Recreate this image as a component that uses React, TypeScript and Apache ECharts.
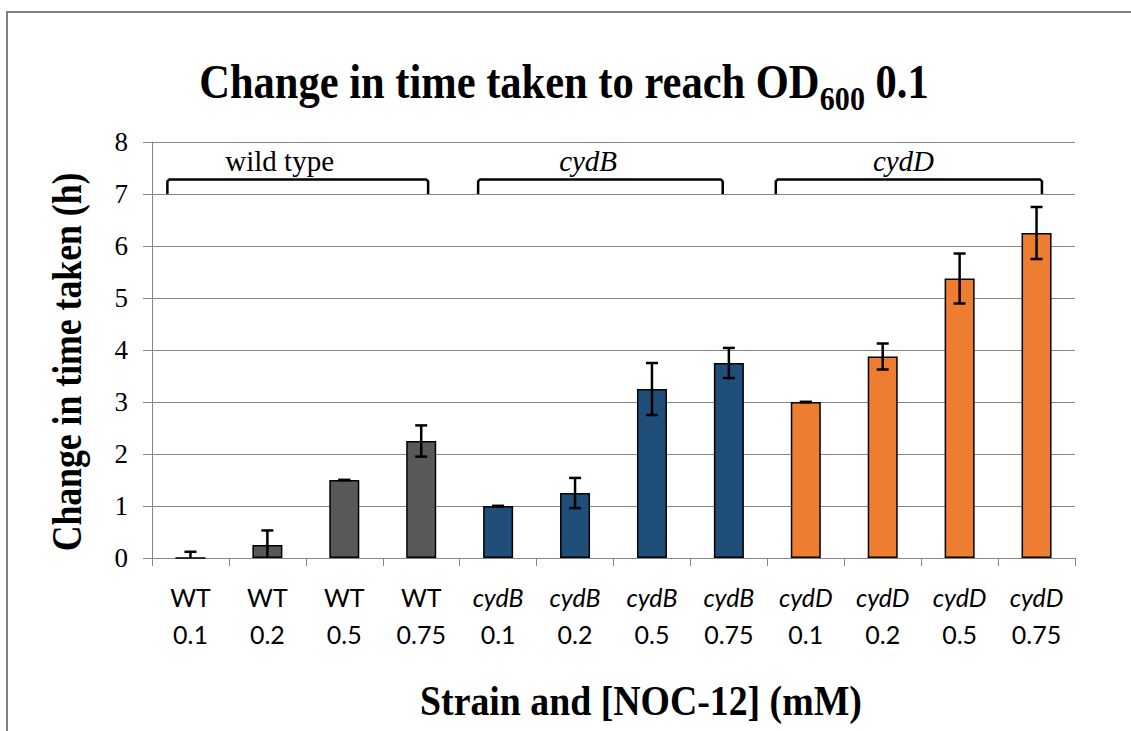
import React, { useEffect, useRef } from "react";
import * as echarts from "echarts";

// Strain and NOC-12 concentration (mM) for each bar
const strains = ["WT", "WT", "WT", "WT", "cydB", "cydB", "cydB", "cydB", "cydD", "cydD", "cydD", "cydD"];
const concentrations = ["0.1", "0.2", "0.5", "0.75", "0.1", "0.2", "0.5", "0.75", "0.1", "0.2", "0.5", "0.75"];

// Change in time taken to reach OD600 0.1 (h), with error
const means = [0, 0.25, 1.5, 2.25, 1.0, 1.25, 3.25, 3.75, 3.0, 3.875, 5.375, 6.25];
const errors = [0.12, 0.28, 0, 0.3, 0, 0.29, 0.5, 0.29, 0, 0.25, 0.48, 0.5];

const strainColors: Record<string, string> = {
  WT: "#595959",
  cydB: "#1F4E79",
  cydD: "#ED7D31",
};

// Group brackets above the bars: label, first/last bar index, end offsets and label centre (in bar slots)
const groupLabels = ["wild type", "cydB", "cydD"];
const groupItalic = [false, true, true];
const groupStart = [0, 4, 8];
const groupEnd = [3, 7, 11];
const groupStartOffset = [-0.3, -0.26, -0.39];
const groupEndOffset = [0.09, -0.08, 0.07];
const groupLabelPos = [1.16, 5.17, 9.27];

const yTicks = [0, 1, 2, 3, 4, 5, 6, 7, 8];

const TITLE_MAIN = "Change in time taken to reach OD";
const TITLE_SUB = "600";
const TITLE_TAIL = " 0.1";

const SERIF = "'Liberation Serif', 'Times New Roman', serif";
const SANS = "Lato, 'Open Sans', sans-serif";
const GRID_COLOR = "#868686";

function measure(text: string, font: string): number {
  const ctx = document.createElement("canvas").getContext("2d");
  if (!ctx) return text.length * 20;
  ctx.font = font;
  return ctx.measureText(text).width;
}

export default function App() {
  const ref = useRef<HTMLDivElement>(null);

  useEffect(() => {
    document.body.style.margin = "0";
    if (!ref.current) return;
    const chart = echarts.init(ref.current, undefined, { renderer: "svg" });

    const categories = strains.map((s, i) => `${s}|${concentrations[i]}`);

    // Title pieces laid out side by side so the subscript sits below the baseline
    const mainFont = `bold 48px ${SERIF}`;
    const subFont = `bold 34px ${SERIF}`;
    const w1 = measure(TITLE_MAIN, mainFont);
    const w2 = measure(TITLE_SUB, subFont);
    const w3 = measure(TITLE_TAIL, mainFont);
    const startX = -(w1 + w2 + w3) / 2;

    const option: echarts.EChartsOption = {
      animation: false,
      backgroundColor: "#ffffff",
      grid: { left: 152, right: 56, top: 142, bottom: 173 },
      xAxis: {
        type: "category",
        data: categories,
        axisLine: { lineStyle: { color: GRID_COLOR, width: 1 } },
        axisTick: { show: true, length: 8, lineStyle: { color: GRID_COLOR } },
        axisLabel: {
          interval: 0,
          margin: 20,
          formatter: (v: string) => {
            const [s, c] = v.split("|");
            const style = s === "WT" ? "n" : "i";
            return `{${style}|${s}}\n{n|${c}}`;
          },
          rich: {
            n: { fontFamily: SANS, fontSize: 25, lineHeight: 37, color: "#000" },
            i: { fontFamily: SANS, fontSize: 25, lineHeight: 37, fontStyle: "italic", color: "#000" },
          },
        },
      },
      yAxis: {
        type: "value",
        min: yTicks[0],
        max: yTicks[yTicks.length - 1],
        interval: 1,
        axisLine: { show: true, lineStyle: { color: GRID_COLOR, width: 1 } },
        axisTick: { show: true, length: 9, lineStyle: { color: GRID_COLOR } },
        splitLine: { lineStyle: { color: GRID_COLOR, width: 1 } },
        axisLabel: { fontFamily: SERIF, fontSize: 27, color: "#000", margin: 24 },
      },
      series: [
        {
          type: "bar",
          barWidth: 30,
          data: means.map((m, i) => ({
            value: m,
            itemStyle: {
              color: strainColors[strains[i]],
              borderColor: "#000",
              borderWidth: 1.5,
            },
          })),
          z: 2,
        },
        {
          type: "custom",
          z: 3,
          encode: { x: 0, y: 1 },
          data: means.map((m, i) => [i, m, errors[i]]),
          renderItem: (_params: any, api: any) => {
            const i = api.value(0);
            const m = api.value(1);
            const e = api.value(2);
            const lo = Math.max(0, m - e);
            const hi = m + e;
            const top = api.coord([i, hi]);
            const bot = api.coord([i, lo]);
            const half = 6;
            const st = { stroke: "#000", lineWidth: 2.5 };
            const children: any[] = [
              { type: "line", shape: { x1: top[0], y1: top[1], x2: bot[0], y2: bot[1] }, style: st },
              { type: "line", shape: { x1: top[0] - half, y1: top[1], x2: top[0] + half, y2: top[1] }, style: st },
            ];
            if (m - e >= 0) {
              children.push({
                type: "line",
                shape: { x1: bot[0] - half, y1: bot[1], x2: bot[0] + half, y2: bot[1] },
                style: st,
              });
            }
            return { type: "group", children };
          },
        },
        {
          type: "custom",
          z: 3,
          encode: { x: 0, y: 1 },
          data: groupLabels.map((_, g) => [groupStart[g], 7, groupEnd[g]]),
          renderItem: (params: any, api: any) => {
            const g = params.dataIndex;
            const bw = api.size([1, 0])[0];
            const x0 = api.coord([groupStart[g], 7])[0] + groupStartOffset[g] * bw;
            const x1 = api.coord([groupEnd[g], 7])[0] + groupEndOffset[g] * bw;
            const base = Math.floor(groupLabelPos[g]);
            const xText = api.coord([base, 7])[0] + (groupLabelPos[g] - base) * bw;
            const yBase = api.coord([0, 7])[1];
            const yTop = api.coord([0, 7.28])[1];
            const yText = api.coord([0, 7.63])[1];
            return {
              type: "group",
              children: [
                {
                  type: "polyline",
                  shape: {
                    points: [
                      [x0, yBase],
                      [x0, yTop + 2],
                      [x0 + 2, yTop],
                      [x1 - 2, yTop],
                      [x1, yTop + 2],
                      [x1, yBase],
                    ],
                  },
                  style: { stroke: "#000", lineWidth: 2.5, fill: "none", lineJoin: "round" },
                },
                {
                  type: "text",
                  style: {
                    text: groupLabels[g],
                    x: xText,
                    y: yText,
                    align: "center",
                    verticalAlign: "middle",
                    fontFamily: SERIF,
                    fontSize: 29,
                    fontStyle: groupItalic[g] ? "italic" : "normal",
                    fill: "#000",
                  },
                },
              ],
            };
          },
        },
      ],
      graphic: [
        {
          type: "rect",
          silent: true,
          shape: { x: 7, y: 12, width: 1300, height: 900 },
          style: { fill: "none", stroke: "#808080", lineWidth: 2 },
        },
        {
          type: "group",
          x: 564,
          y: 82,
          scaleX: 0.886,
          children: [
            {
              type: "text",
              x: startX,
              y: 0,
              style: {
                text: TITLE_MAIN,
                align: "left",
                verticalAlign: "middle",
                font: mainFont,
                fill: "#000",
              },
            },
            {
              type: "text",
              x: startX + w1,
              y: 16,
              style: {
                text: TITLE_SUB,
                align: "left",
                verticalAlign: "middle",
                font: subFont,
                fill: "#000",
              },
            },
            {
              type: "text",
              x: startX + w1 + w2,
              y: 0,
              style: {
                text: TITLE_TAIL,
                align: "left",
                verticalAlign: "middle",
                font: mainFont,
                fill: "#000",
              },
            },
          ],
        },
        {
          type: "text",
          x: 66,
          y: 362,
          rotation: Math.PI / 2,
          scaleX: 0.85,
          style: {
            text: "Change in time taken (h)",
            align: "center",
            verticalAlign: "middle",
            fontFamily: SERIF,
            fontWeight: "bold",
            fontSize: 42,
            fill: "#000",
          },
        },
        {
          type: "text",
          x: 641,
          y: 701,
          scaleX: 0.9,
          style: {
            text: "Strain and [NOC-12] (mM)",
            align: "center",
            verticalAlign: "middle",
            fontFamily: SERIF,
            fontWeight: "bold",
            fontSize: 42,
            fill: "#000",
          },
        },
      ],
    };

    chart.setOption(option);
    return () => chart.dispose();
  }, []);

  return <div ref={ref} style={{ width: 1131, height: 731 }} />;
}
